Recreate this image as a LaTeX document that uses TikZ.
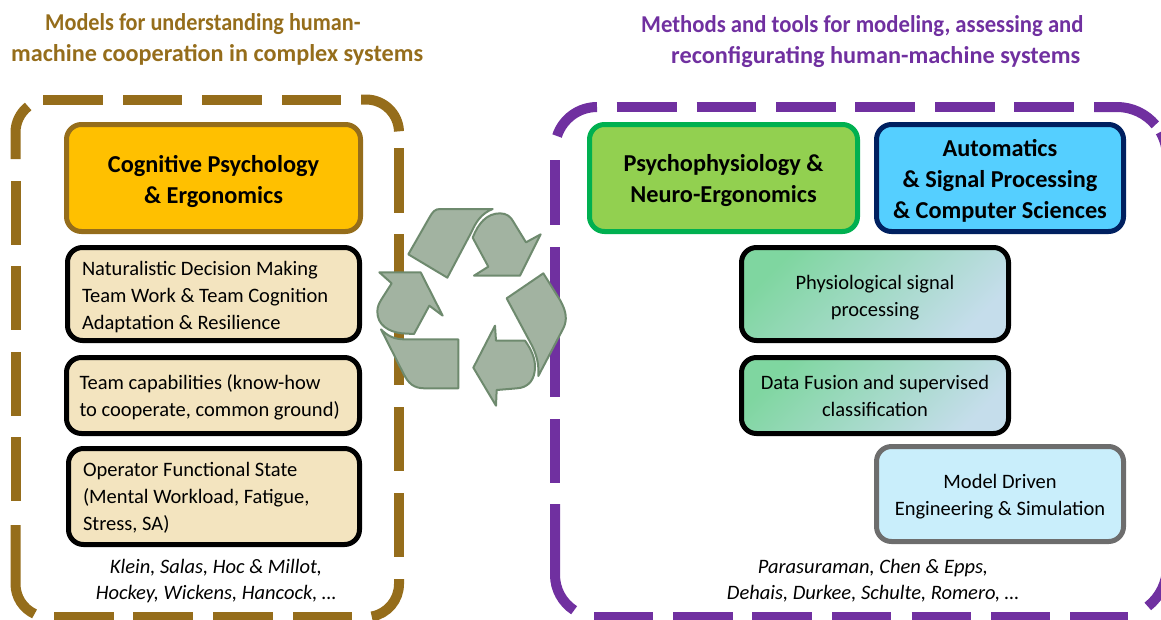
\documentclass[tikz,border=0pt]{standalone}
\usepackage{graphicx}
\usepackage{fontspec}
\setmainfont{Carlito}
\definecolor{brn}{HTML}{956D1B}
\definecolor{prp}{HTML}{7030A0}
\definecolor{amber}{HTML}{FFC000}
\definecolor{beige}{HTML}{F3E4BF}
\definecolor{lgreen}{HTML}{92D050}
\definecolor{dgreen}{HTML}{00B050}
\definecolor{skyb}{HTML}{55CFFF}
\definecolor{navy}{HTML}{002060}
\definecolor{gradA}{HTML}{7FD6A0}
\definecolor{gradB}{HTML}{C5DDEB}
\definecolor{greyline}{HTML}{6D6D6D}
\definecolor{paleb}{HTML}{C9EEFB}
\definecolor{recf}{HTML}{A2B3A1}
\definecolor{recd}{HTML}{6E8A6E}
\newcommand{\lifter}[1]{\rule{0pt}{#1pt}}
\tikzset{
  boxbase/.style={rectangle,rounded corners=15pt,line width=5pt,inner sep=0pt,anchor=center},
  headtext/.style={font=\fontsize{24.3}{31}\selectfont\bfseries,align=center,text=black},
  bodytext/.style={font=\fontsize{20.5}{27}\selectfont,text=black},
  title/.style={font=\fontsize{24.2}{31}\selectfont\bfseries,align=left,inner sep=0pt,anchor=north west},
  authors/.style={font=\fontsize{20.5}{26.5}\selectfont\itshape,align=center,inner sep=0pt},
  bdash/.style={draw=brn,line width=10pt,line cap=butt},
  pdash/.style={draw=prp,line width=10pt,line cap=butt},
  blade/.style={fill=recf,draw=recd,line width=2pt,line join=round},
  gradbox/.style={boxbase,draw=black,left color=gradA,right color=gradB,shading angle=45}
}
\begin{document}
\begin{tikzpicture}[x=1pt,y=1pt,yscale=-1]
\useasboundingbox (0,0) rectangle (1161,619);
\clip (0,0) rectangle (1161,619);
% brown dashed frame
\foreach \a/\b in {43/103,123/182,202/262,282/341}{\path[bdash] (\a,99.5) -- (\b,99.5);}
\foreach \a/\b in {54/114,133/193,213/273,293/352}{\path[bdash] (\a,617) -- (\b,617);}
\foreach \a/\b in {181/245,266/330,352/416,437/501}{\path[bdash] (15.5,\a) -- (15.5,\b);}
\foreach \a/\b in {148/213,234/298,320/385,407/471,493/557}{\path[bdash] (399,\a) -- (399,\b);}
\path[bdash] (15.5,159) -- (15.5,132.5) arc[start angle=180,end angle=232,radius=33];
\path[bdash] (361,99.5) -- (366,99.5) arc[start angle=270,end angle=358,radius=33];
\path[bdash] (15.5,525) -- (15.5,584) arc[start angle=180,end angle=115,radius=33];
\path[bdash] (366,584) ++(80:33) arc[start angle=80,end angle=0,radius=33] -- (399,579);
% purple dashed frame
\foreach \a/\b in {616.5/676.5,696.5/756,776/836,855/915,935/995,1014/1074}{\path[pdash] (\a,107) -- (\b,107);}
\foreach \a/\b in {594/653,673/732.5,752/812,832/891,911.5/971,991/1050,1070/1128}{\path[pdash] (\a,617) -- (\b,617);}
\foreach \a/\b in {160/225,247/311,333/397,419/483}{\path[pdash] (555,\a) -- (555,\b);}
\path[pdash] (597,107) arc[start angle=270,end angle=198,radius=42];
\path[pdash] (555,504) -- (555,575) arc[start angle=180,end angle=123,radius=42];
\path[pdash] (1094,107) -- (1117,107) arc[start angle=270,end angle=320,radius=50];
\path[pdash] (1117,157) ++(330:50) arc[start angle=330,end angle=360,radius=50] -- (1167,191);
\path[pdash] (1117,567) ++(52:50) arc[start angle=52,end angle=0,radius=50];
% titles
\node[title,text=brn] (t1) at (11,13.5) {\hspace*{34pt}\scalebox{0.918}[1]{Models for understanding human-}\\\scalebox{1.0}[1]{machine cooperation in complex systems}};
\node[title,text=prp] (t2) at (641,15) {\scalebox{0.938}[1]{Methods and tools for modeling, assessing and}\\\hspace*{30pt}\scalebox{1.005}[1]{reconfigurating human-machine systems}};
% left boxes
\node[boxbase,draw=brn,fill=amber,minimum width=294pt,minimum height=107pt,headtext] (cog) at (213.5,178) {\lifter{23.5}Cognitive Psychology\\\& Ergonomics};
\node[boxbase,draw=black,fill=beige,minimum width=292pt,minimum height=93pt,text width=263pt,align=flush left,bodytext] (ndm) at (213.5,294) {\lifter{21}Naturalistic Decision Making\\Team Work \& Team Cognition\\Adaptation \& Resilience};
\node[boxbase,draw=black,fill=beige,minimum width=293pt,minimum height=76pt,text width=267pt,align=flush left,bodytext] (team) at (213,395.5) {\lifter{19}Team capabilities (know-how\\to cooperate, common ground)};
\node[boxbase,draw=black,fill=beige,minimum width=291pt,minimum height=96pt,text width=262pt,align=flush left,bodytext] (ofs) at (214,496.5) {\lifter{17}Operator Functional State\\(Mental Workload, Fatigue,\\Stress, SA)};
\node[authors] (auth1) at (216,581) {Klein, Salas, Hoc \& Millot,\\Hockey, Wickens, Hancock, …};
% right boxes
\node[boxbase,draw=dgreen,fill=lgreen,minimum width=268pt,minimum height=107pt,headtext] (psy) at (723.5,178) {\lifter{22}Psychophysiology \&\\Neuro-Ergonomics};
\node[boxbase,draw=navy,fill=skyb,minimum width=247pt,minimum height=107pt,headtext] (aut) at (1000,178) {\lifter{22}Automatics\\\& Signal Processing\\\& Computer Sciences};
\node[gradbox,minimum width=267pt,minimum height=93pt,align=center,bodytext] (sig) at (875,294) {\lifter{21}Physiological signal\\processing};
\node[gradbox,minimum width=267pt,minimum height=76pt,align=center,bodytext] (fus) at (875,395.5) {Data Fusion and supervised\\classification};
\node[boxbase,draw=greyline,fill=paleb,minimum width=247pt,minimum height=95pt,align=center,bodytext] (mde) at (1000,494) {\lifter{19}Model Driven\\Engineering \& Simulation};
\node[authors] (auth2) at (873,580.5) {Parasuraman, Chen \& Epps,\\Dehais, Durkee, Schulte, Romero, …};
% recycling symbol
\begin{scope}[shift={(370,195)},scale=1/3]
\path[blade] (115,178) -- (178,68) .. controls (188,50) and (195,42) .. (210,42) -- (368,42) .. controls (335,55) and (318,80) .. (305,110) -- (232,248) -- cycle;
\path[blade] (308,128) .. controls (325,85) and (350,55) .. (390,55) .. controls (410,55) and (422,65) .. (430,80) -- (468,142) -- (512,118) -- (450,242) -- (312,242) -- (355,215) -- cycle;
\path[blade] (410,310) -- (520,235) -- (570,315) .. controls (590,350) and (592,375) .. (580,400) -- (505,543) .. controls (508,500) and (495,470) .. (485,450) -- cycle;
\path[blade] (375,392) -- (378,437) -- (465,437) .. controls (485,465) and (495,490) .. (495,515) .. controls (495,555) and (475,578) .. (440,580) -- (380,585) -- (378,632) -- (310,518) -- cycle;
\path[blade] (33,403) .. controls (55,425) and (75,433) .. (105,433) -- (265,433) -- (265,580) -- (165,580) .. controls (130,580) and (115,565) .. (100,535) -- cycle;
\path[blade] (28,232) -- (152,232) -- (218,362) -- (178,332) -- (132,417) -- (95,415) .. controls (55,410) and (22,390) .. (22,350) .. controls (22,335) and (27,325) .. (35,312) -- (65,265) -- cycle;
\end{scope}
\end{tikzpicture}
\end{document}
